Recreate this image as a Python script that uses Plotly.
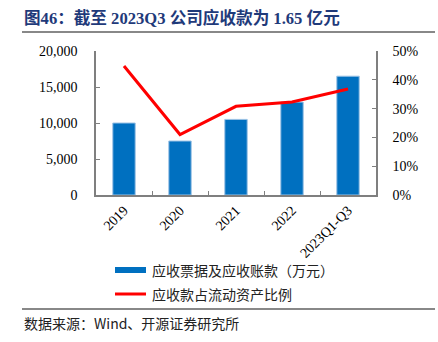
import plotly.graph_objects as go

categories = ["2019", "2020", "2021", "2022", "2023Q1-Q3"]
receivables = [10000, 7500, 10500, 12900, 16500]
ratio = [0.448, 0.210, 0.308, 0.323, 0.368]

title_text = "图46：截至 2023Q3 公司应收款为 1.65 亿元"
bar_name = "应收票据及应收账款（万元）"
line_name = "应收款占流动资产比例"
source_text = "数据来源：Wind、开源证券研究所"

serif = "Liberation Serif, Times New Roman, Noto Sans CJK SC"
cjk = "Noto Sans CJK SC, Liberation Serif"
axis_col = "#7f7f7f"
blue = "#0070C0"
red = "#FF0000"

fig = go.Figure()
fig.add_trace(go.Bar(x=categories, y=receivables, name=bar_name,
                     marker=dict(color=blue, line=dict(color="#9cc2e5", width=1)),
                     yaxis="y", showlegend=False))
fig.add_trace(go.Scatter(x=categories, y=ratio, name=line_name, mode="lines",
                         line=dict(color=red, width=3), yaxis="y2", showlegend=False))

W, H = 438, 342
ml, mr, mt, mb = 96, 62, 51, 147
pw, ph = W - ml - mr, H - mt - mb

def ax(xpix):
    return (xpix - ml) / pw

def ay(ypix):
    return (H - mb - ypix) / ph

shapes = [
    dict(type="line", xref="paper", yref="paper", x0=ax(22), x1=ax(435), y0=ay(32), y1=ay(32),
         line=dict(color="#606060", width=1.5)),
    dict(type="line", xref="paper", yref="paper", x0=ax(22), x1=ax(435), y0=ay(309), y1=ay(309),
         line=dict(color="#606060", width=1.5)),
    dict(type="rect", xref="paper", yref="paper", x0=ax(115), x1=ax(146), y0=ay(273), y1=ay(267),
         fillcolor=blue, line=dict(width=0)),
    dict(type="line", xref="paper", yref="paper", x0=ax(115), x1=ax(146), y0=ay(294), y1=ay(294),
         line=dict(color=red, width=3)),
]

annotations = [
    dict(text=f"<b>{title_text}</b>", xref="paper", yref="paper", x=ax(22), y=ay(18),
         xanchor="left", yanchor="middle", showarrow=False,
         font=dict(family=serif, size=16.6, color="#1f3a7a")),
    dict(text=bar_name, xref="paper", yref="paper", x=ax(150), y=ay(270),
         xanchor="left", yanchor="middle", showarrow=False,
         font=dict(family=cjk, size=14, color="#222222")),
    dict(text=line_name, xref="paper", yref="paper", x=ax(150), y=ay(294),
         xanchor="left", yanchor="middle", showarrow=False,
         font=dict(family=cjk, size=14, color="#222222")),
    dict(text=source_text, xref="paper", yref="paper", x=ax(22), y=ay(323),
         xanchor="left", yanchor="middle", showarrow=False,
         font=dict(family=cjk, size=14, color="#222222")),
]

fig.update_layout(
    width=W, height=H,
    margin=dict(l=ml, r=mr, t=mt, b=mb, pad=0),
    paper_bgcolor="white", plot_bgcolor="white",
    bargap=0.6,
    shapes=shapes, annotations=annotations,
    xaxis=dict(type="category", showline=True, linecolor=axis_col, linewidth=1.5,
               ticks="inside", ticklen=4, tickcolor=axis_col, tickson="boundaries",
               tickangle=-45, tickfont=dict(family=serif, size=14, color="#000"),
               showgrid=False, zeroline=False),
    yaxis=dict(range=[0, 20000], dtick=5000, tickformat=",", showline=True,
               linecolor=axis_col, linewidth=1.5, ticks="inside", ticklen=4,
               tickcolor=axis_col, showgrid=False, zeroline=False,
               ticklabelstandoff=14,
               tickfont=dict(family=serif, size=14, color="#000")),
    yaxis2=dict(range=[0, 0.5], dtick=0.1, tickformat=".0%", overlaying="y",
                side="right", showline=True, linecolor=axis_col, linewidth=1.5,
                ticks="inside", ticklen=4, tickcolor=axis_col, showgrid=False,
                zeroline=False, ticklabelstandoff=12,
                tickfont=dict(family=serif, size=14, color="#000")),
)

fig.write_html("out.html")
